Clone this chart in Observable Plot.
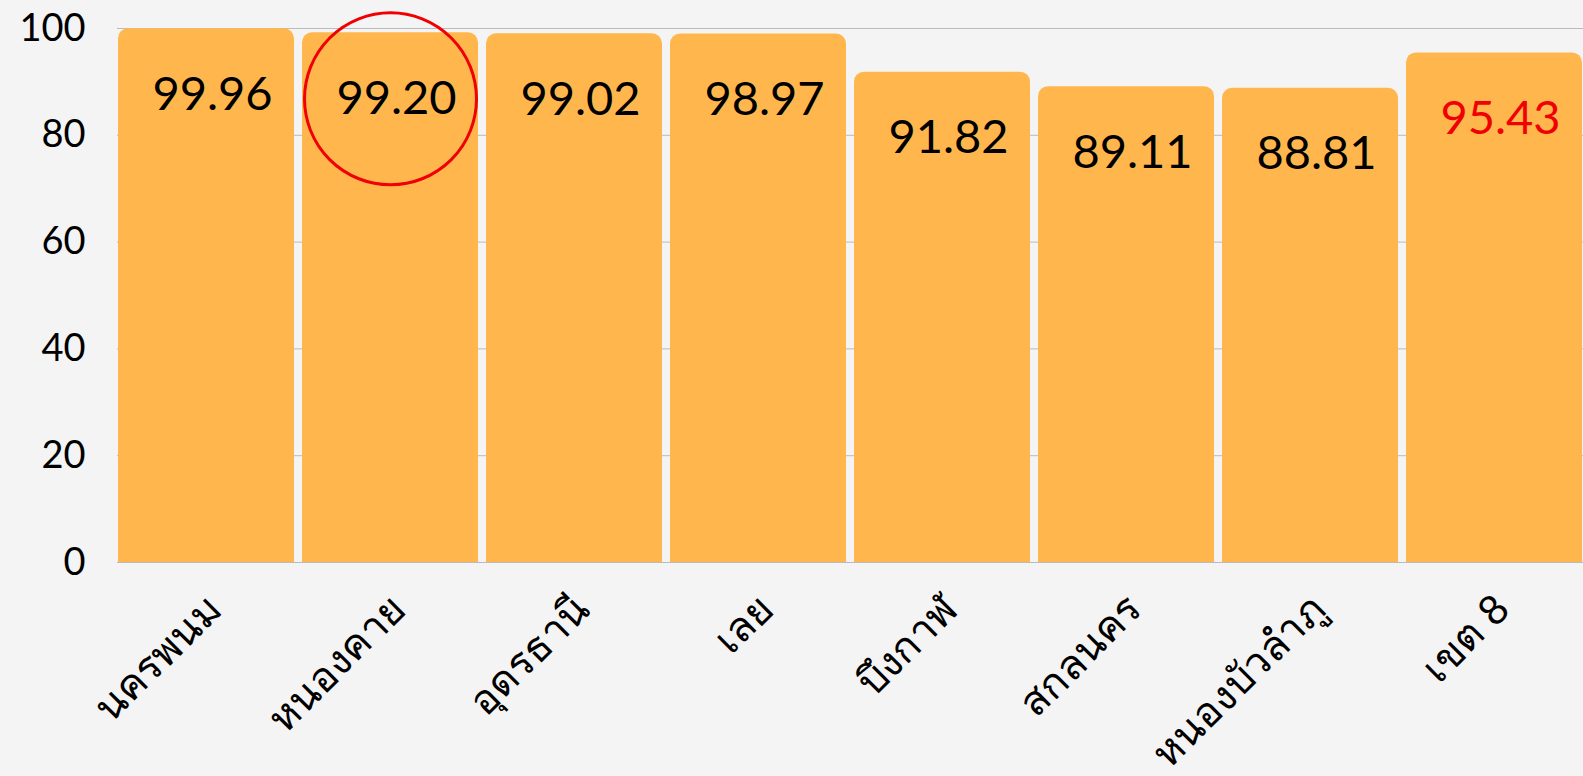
<!DOCTYPE html>
<html>
<head>
<meta charset="utf-8">
<script src="https://cdn.jsdelivr.net/npm/d3@7"></script>
<script src="https://cdn.jsdelivr.net/npm/@observablehq/plot@0.6"></script>
<style>
  html, body { margin: 0; padding: 0; background: #f4f4f4; overflow: hidden; }
  #chart svg { display: block; }
</style>
</head>
<body>
<div id="chart"></div>
<script>
const provinces = ["นครพนม", "หนองคาย", "อุดรธานี", "เลย", "บึงกาฬ", "สกลนคร", "หนองบัวลำภู", "เขต 8"];
const values = [99.96, 99.20, 99.02, 98.97, 91.82, 89.11, 88.81, 95.43];
const labelColors = ["#000", "#000", "#000", "#000", "#000", "#000", "#000", "#f00000"];
const highlighted = ["หนองคาย"];
const yTicks = [0, 20, 40, 60, 80, 100];

const data = provinces.map((p, i) => ({ province: p, value: values[i], color: labelColors[i] }));
const hl = data.filter(d => highlighted.includes(d.province));

const font = "Lato, 'Noto Sans', sans-serif";

const chart = Plot.plot({
  width: 1583,
  height: 776,
  marginTop: 28,
  marginBottom: 214,
  marginLeft: 117,
  marginRight: 0,
  style: { background: "#f4f4f4", fontFamily: font, overflow: "visible" },
  x: { domain: provinces, paddingInner: 0.045, paddingOuter: 0, label: null },
  y: { domain: [0, 100], ticks: yTicks, label: null },
  marks: [
    Plot.gridY(yTicks, { stroke: "#bbb", strokeOpacity: 1, strokeWidth: 1 }),
    Plot.barY(data, { x: "province", y: "value", fill: "#ffb74d", rx: 10 }),
    Plot.barY(data, { x: "province", y1: 0, y2: d => d.value / 2, fill: "#ffb74d" }),
    Plot.text(data, { x: "province", y: "value", text: d => d.value.toFixed(2), fill: "color", fontSize: 47, dy: 66, dx: 6 }),
    Plot.dot(hl, { x: "province", y: "value", r: 86, stroke: "#f00000", strokeWidth: 3, fill: "none", dy: 66 }),
    Plot.axisY(yTicks, { tickSize: 0, tickPadding: 32, fontSize: 38, fill: "#000", label: null }),
    Plot.axisX({ tickSize: 0, tickPadding: 40, tickRotate: -45, fontSize: 41, fill: "#000", label: null, dx: 8 })
  ]
});
document.getElementById("chart").appendChild(chart);
</script>
</body>
</html>
